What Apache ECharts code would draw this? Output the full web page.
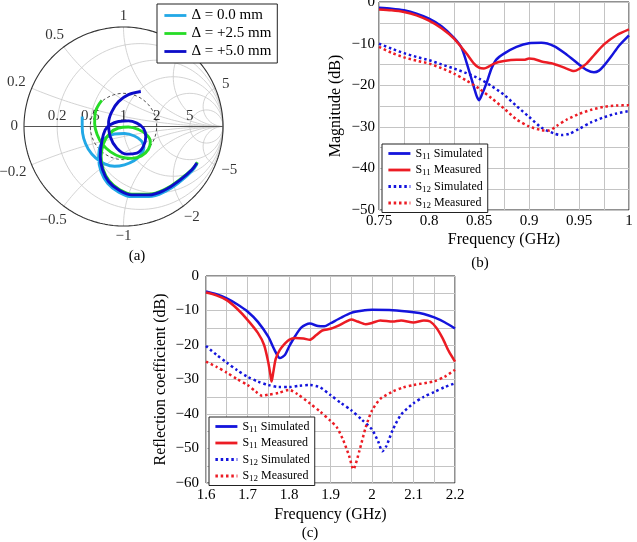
<!DOCTYPE html>
<html>
<head>
<meta charset="utf-8">
<script src="https://cdn.jsdelivr.net/npm/echarts@6/dist/echarts.min.js"></script>
<style>html,body{margin:0;padding:0;background:#fff}#main{width:637px;height:542px}</style>
</head>
<body>
<div id="main"></div>
<script>
// (a) Smith chart traces, reflection coefficient [Re, Im]
const gammaD00 = [[0.74,-0.375],[0.69,-0.445],[0.575,-0.55],[0.425,-0.65],[0.255,-0.705],[0.085,-0.705],[-0.055,-0.655],[-0.16,-0.57],[-0.225,-0.455],[-0.25,-0.32],[-0.235,-0.2],[-0.18,-0.115],[-0.09,-0.075],[0.01,-0.07],[0.11,-0.095],[0.18,-0.145],[0.205,-0.21],[0.175,-0.28],[0.105,-0.345],[0.01,-0.385],[-0.09,-0.4],[-0.19,-0.375],[-0.28,-0.315],[-0.355,-0.225],[-0.4,-0.12],[-0.415,-0.01],[-0.415,0.1]];
const gammaD25 = [[0.744,-0.36],[0.69,-0.43],[0.57,-0.53],[0.42,-0.63],[0.25,-0.68],[0.085,-0.68],[-0.045,-0.63],[-0.145,-0.545],[-0.205,-0.43],[-0.225,-0.3],[-0.2,-0.17],[-0.14,-0.07],[-0.05,-0.015],[0.05,-0.005],[0.15,-0.03],[0.23,-0.08],[0.27,-0.15],[0.25,-0.23],[0.18,-0.295],[0.08,-0.32],[-0.03,-0.305],[-0.13,-0.255],[-0.21,-0.18],[-0.265,-0.08],[-0.29,0.03],[-0.285,0.13],[-0.26,0.2],[-0.218,0.262]];
const gammaD50 = [[0.737,-0.368],[0.687,-0.435],[0.57,-0.536],[0.42,-0.636],[0.25,-0.687],[0.084,-0.687],[-0.05,-0.636],[-0.15,-0.553],[-0.21,-0.435],[-0.234,-0.3],[-0.218,-0.15],[-0.184,-0.034],[-0.134,0.017],[-0.05,0.05],[0.05,0.057],[0.134,0.034],[0.2,-0.017],[0.224,-0.1],[0.2,-0.2],[0.134,-0.268],[0.034,-0.278],[-0.067,-0.218],[-0.134,-0.1],[-0.15,0.034],[-0.117,0.15],[-0.05,0.25],[0.05,0.32],[0.174,0.352]];
const smithR = [0.2, 0.5, 1, 2, 5];
const smithX = [0.2, 0.5, 1, 2, 5];

// (b) magnitude vs frequency (GHz, dB)
const bS11SimF = [0.75,0.7625,0.775,0.7875,0.8,0.8125,0.825,0.8325,0.8375,0.8425,0.8475,0.85,0.8525,0.8575,0.8625,0.8675,0.875,0.8875,0.9,0.9125,0.925,0.9375,0.95,0.9575,0.965,0.97,0.975,0.9825,0.99,1.0];
const bS11SimDb = [-1.4,-1.6,-2.0,-2.8,-4.0,-5.8,-8.6,-11,-14.5,-18.5,-22.5,-23.6,-22.5,-19.5,-16,-13.8,-12.4,-10.8,-9.9,-9.8,-10.6,-12.6,-15.0,-16.3,-16.9,-16.5,-15.3,-13,-10.5,-8];
const bS11MeaF = [0.75,0.7625,0.775,0.7875,0.8,0.8125,0.825,0.8375,0.845,0.85,0.855,0.86,0.865,0.875,0.8875,0.895,0.9,0.905,0.9125,0.925,0.9375,0.945,0.95,0.9575,0.965,0.975,0.9875,1.0];
const bS11MeaDb = [-1.8,-2.0,-2.4,-3.2,-4.5,-6.3,-8.8,-12.4,-14.8,-15.8,-16.0,-15.5,-14.8,-14.2,-13.9,-13.9,-13.6,-13.7,-14.3,-14.9,-16.0,-16.6,-16.1,-14.8,-12.8,-10.2,-8.0,-6.6];
const bS12SimF = [0.75,0.7625,0.775,0.7875,0.8,0.8125,0.825,0.8375,0.85,0.8625,0.875,0.8875,0.9,0.9125,0.925,0.9325,0.94,0.95,0.9625,0.975,0.9875,1.0];
const bS12SimDb = [-10,-11.2,-12.3,-13.2,-14,-15,-16,-17.1,-18.4,-20.2,-22.3,-25,-27.6,-30.2,-31.6,-32,-31.7,-30.5,-28.9,-27.7,-26.8,-26.2];
const bS12MeaF = [0.75,0.7625,0.775,0.7875,0.8,0.8125,0.825,0.8375,0.85,0.8625,0.875,0.8875,0.9,0.9125,0.92,0.9275,0.9375,0.95,0.9625,0.975,0.9875,1.0];
const bS12MeaDb = [-10.8,-12.2,-13.3,-14.1,-14.8,-15.9,-17.2,-18.9,-20.8,-23.1,-25.6,-28.2,-29.9,-30.8,-30.9,-29.8,-28.3,-26.9,-25.9,-25.2,-24.9,-24.8];

// (c) reflection coefficient vs frequency (GHz, dB)
const cS11SimF = [1.6,1.625,1.65,1.675,1.7,1.725,1.75,1.765,1.778,1.79,1.8,1.815,1.83,1.85,1.87,1.885,1.9,1.925,1.95,1.975,2.0,2.05,2.1,2.125,2.15,2.175,2.2];
const cS11SimDb = [-4.5,-5.3,-6.5,-8.2,-10.3,-13.3,-17.6,-21.4,-23.8,-22.9,-20.5,-17.4,-14.9,-13.8,-14.5,-14.6,-13.7,-12.1,-10.7,-10.1,-9.8,-9.9,-10.5,-11,-12,-13.4,-15.2];
const cS11MeaF = [1.6,1.625,1.65,1.675,1.7,1.725,1.74,1.75,1.755,1.758,1.762,1.768,1.778,1.79,1.8,1.815,1.835,1.85,1.865,1.88,1.9,1.915,1.935,1.95,1.965,1.985,2.0,2.02,2.05,2.07,2.1,2.125,2.14,2.155,2.17,2.185,2.2];
const cS11MeaDb = [-4.8,-5.6,-7.0,-9.5,-12.7,-16.5,-20,-25,-28.5,-30.6,-28,-24,-21.4,-19.6,-18.5,-18.0,-18.1,-18.5,-17.2,-15.8,-15.3,-14.6,-13.4,-12.6,-13.2,-14.0,-13.6,-12.9,-13.2,-12.9,-13.5,-12.9,-13.2,-15.0,-18,-21.8,-24.8];
const cS12SimF = [1.6,1.625,1.65,1.675,1.7,1.725,1.75,1.775,1.8,1.825,1.85,1.875,1.9,1.925,1.95,1.975,2.0,2.015,2.025,2.035,2.05,2.07,2.1,2.125,2.15,2.175,2.2];
const cS12SimDb = [-20.3,-22.8,-25.1,-27.3,-29.2,-30.6,-31.6,-32.2,-32.2,-31.8,-31.6,-32.3,-34.5,-36.8,-38.9,-41.6,-44.5,-48,-50.8,-49.2,-44.6,-40.2,-36.9,-35,-33.6,-32.2,-31.1];
const cS12MeaF = [1.6,1.625,1.65,1.675,1.7,1.72,1.735,1.75,1.775,1.8,1.82,1.85,1.875,1.9,1.915,1.93,1.945,1.955,1.97,1.985,2.0,2.02,2.05,2.075,2.1,2.15,2.175,2.2];
const cS12MeaDb = [-24.8,-26.3,-28,-29.9,-31.6,-33.5,-34.7,-34.4,-33.9,-33.0,-34.2,-36.9,-39.3,-42,-43.8,-47.4,-52.2,-56,-50.5,-43.8,-39,-35.6,-33.5,-32.3,-31.6,-30.5,-29.2,-27.2];

const smithNames = ['Δ = 0.0 mm', 'Δ = +2.5 mm', 'Δ = +5.0 mm'];
const sNames = ['S11 Simulated', 'S11 Measured', 'S12 Simulated', 'S12 Measured'];

const FONT = '"Liberation Serif", "DejaVu Serif", serif';
const BLUE = '#1414dc', RED = '#ec1c24';
const zip = (xs, ys) => xs.map((x, i) => [x, ys[i]]);
const num = v => (v < 0 ? '\u2212' : '') + String(+Math.abs(v).toFixed(3));

// smith chart grid geometry
function arcPts(cx, cy, r, a0, a1, n) {
  const pts = [];
  for (let i = 0; i <= n; i++) {
    const a = a0 + (a1 - a0) * i / n;
    pts.push([cx + r * Math.cos(a), cy + r * Math.sin(a)]);
  }
  return pts;
}
const smithSeries = [];
function geoLine(data, style) {
  smithSeries.push({ type: 'line', xAxisIndex: 0, yAxisIndex: 0, data, symbol: 'none', silent: true, z: 1, lineStyle: style, clip: false });
}
const gridStyle = { color: '#c8c8c8', width: 0.8 };
smithR.forEach(r => geoLine(arcPts(r / (1 + r), 0, 1 / (1 + r), 0, 2 * Math.PI, 120), gridStyle));
smithX.forEach(x => {
  const px = (x * x - 1) / (x * x + 1), py = 2 * x / (x * x + 1);
  let aEnd = Math.atan2(py - 1 / x, px - 1);
  if (aEnd > -Math.PI / 2) aEnd -= 2 * Math.PI;
  const up = arcPts(1, 1 / x, 1 / x, -Math.PI / 2, aEnd, 120);
  geoLine(up, gridStyle);
  geoLine(up.map(p => [p[0], -p[1]]), gridStyle);
});
geoLine(arcPts(0, 0, 1, 0, 2 * Math.PI, 240), { color: '#333', width: 1.1 });
geoLine([[-1, 0], [1, 0]], { color: '#555', width: 1.2 });
geoLine(arcPts(0, 0, 1 / 3, 0, 2 * Math.PI, 120), { color: '#222', width: 0.8, type: [3, 2.5] });

// smith chart labels
const meas = document.createElement('canvas').getContext('2d');
meas.font = '15px ' + FONT;
const reactLabels = [0, ...smithX, ...smithX.map(v => -v)].map(x => {
  const px = (x * x - 1) / (x * x + 1), py = 2 * x / (x * x + 1);
  const text = num(x);
  const a = Math.atan2(py, px);
  const w = meas.measureText(text).width;
  const d = 6 + w / 2 * Math.abs(Math.cos(a)) + 4.5 * Math.abs(Math.sin(a));
  return { value: [px, py], label: { formatter: text, position: [d * Math.cos(a), -d * Math.sin(a)] } };
});
const resLabels = smithR.map(r => ({ value: [(r - 1) / (r + 1), 0], label: { formatter: num(r) } }));
smithSeries.push(
  { type: 'scatter', xAxisIndex: 0, yAxisIndex: 0, data: reactLabels, symbolSize: 0.1, silent: true, itemStyle: { color: 'transparent' },
    label: { show: true, align: 'center', verticalAlign: 'middle', fontSize: 15, fontFamily: FONT, color: '#000' } },
  { type: 'scatter', xAxisIndex: 0, yAxisIndex: 0, data: resLabels, symbolSize: 0.1, silent: true, itemStyle: { color: 'transparent' },
    label: { show: true, position: 'top', distance: 3, fontSize: 15, fontFamily: FONT, color: '#000' } }
);

const smithTrace = (name, data, color) => ({
  name, type: 'line', xAxisIndex: 0, yAxisIndex: 0, data, smooth: 0.4, symbol: 'none', z: 3,
  lineStyle: { color, width: 2.9 }, itemStyle: { color }
});
const trace = (name, idx, xs, ys, color, dotted) => ({
  name, type: 'line', xAxisIndex: idx, yAxisIndex: idx, data: zip(xs, ys), smooth: 0.25, symbol: 'none', z: 3,
  lineStyle: { color, width: 2.5, type: dotted ? [2.5, 2.8] : 'solid' }, itemStyle: { color }
});

const labelBase = { fontSize: 15, fontFamily: FONT, color: '#000', formatter: num, showMinLabel: true, showMaxLabel: true, hideOverlap: false };
const valAxis = (o, margin) => Object.assign({
  type: 'value', axisLine: { show: false }, axisTick: { show: false },
  splitLine: { show: true, lineStyle: { color: '#c4c4c4', width: 1 } },
  minorTick: { show: false, splitNumber: 2 },
  minorSplitLine: { show: true, lineStyle: { color: '#c4c4c4', width: 1 } },
  axisLabel: Object.assign({}, labelBase, { margin }),
  nameLocation: 'middle', nameTextStyle: { fontSize: 16, fontFamily: FONT, color: '#000' }
}, o);

const legendCommon = {
  orient: 'vertical', backgroundColor: '#fff', borderColor: '#222', borderWidth: 1, borderRadius: 0,
  itemWidth: 22, itemStyle: { opacity: 0 }, lineStyle: { width: 2.8 }
};
const sLegend = (left, top) => Object.assign({}, legendCommon, {
  left, top, padding: [2, 5, 2, 5], itemGap: 1.5, itemHeight: 12,
  formatter: n => '{m|S}{sub|' + n.slice(1, 3) + '}{m| ' + n.slice(4) + '}',
  textStyle: { fontFamily: FONT, color: '#000', fontSize: 12,
    rich: { m: { fontSize: 12, lineHeight: 12, fontFamily: FONT, color: '#000' },
            sub: { fontSize: 9, lineHeight: 8, padding: [6, 0, 0, 0], fontFamily: FONT, color: '#000' } } },
  data: sNames
});

const chart = echarts.init(document.getElementById('main'));
chart.setOption({
  animation: false,
  backgroundColor: '#fff',
  textStyle: { fontFamily: FONT },
  grid: [
    { left: 24, top: 27, width: 199, height: 199, outerBoundsMode: 'none' },
    { left: 379, top: 2, width: 250, height: 208, show: true, borderColor: '#222', borderWidth: 1, outerBoundsMode: 'none' },
    { left: 206, top: 276, width: 249, height: 207, show: true, borderColor: '#222', borderWidth: 1, outerBoundsMode: 'none' }
  ],
  xAxis: [
    { type: 'value', gridIndex: 0, min: -1, max: 1, show: false },
    valAxis({ gridIndex: 1, min: 0.75, max: 1, interval: 0.05, name: 'Frequency (GHz)', nameGap: 22 }, 4),
    valAxis({ gridIndex: 2, min: 1.6, max: 2.2, interval: 0.1, name: 'Frequency (GHz)', nameGap: 24 }, 5)
  ],
  yAxis: [
    { type: 'value', gridIndex: 0, min: -1, max: 1, show: false },
    valAxis({ gridIndex: 1, min: -50, max: 0, interval: 10, name: 'Magnitude (dB)', nameGap: 35 }, 4),
    valAxis({ gridIndex: 2, min: -60, max: 0, interval: 10, name: 'Reflection coefficient (dB)', nameGap: 37 }, 7)
  ],
  legend: [
    Object.assign({}, legendCommon, { left: 157, top: 4, padding: [4, 6, 4, 6], itemGap: 3, itemHeight: 14,
      textStyle: { fontFamily: FONT, color: '#000', fontSize: 15, lineHeight: 14 },
      data: smithNames }),
    sLegend(382, 144),
    sLegend(209, 417)
  ],
  graphic: [
    { type: 'text', x: 137, y: 256, style: { text: '(a)', font: '15px ' + FONT, fill: '#000', align: 'center', verticalAlign: 'middle' } },
    { type: 'text', x: 480, y: 263, style: { text: '(b)', font: '15px ' + FONT, fill: '#000', align: 'center', verticalAlign: 'middle' } },
    { type: 'text', x: 310, y: 533, style: { text: '(c)', font: '15px ' + FONT, fill: '#000', align: 'center', verticalAlign: 'middle' } }
  ],
  series: [
    ...smithSeries,
    smithTrace(smithNames[0], gammaD00, '#22a8e6'),
    smithTrace(smithNames[1], gammaD25, '#26dc26'),
    smithTrace(smithNames[2], gammaD50, '#0c0cc8'),
    trace(sNames[0], 1, bS11SimF, bS11SimDb, BLUE, false),
    trace(sNames[1], 1, bS11MeaF, bS11MeaDb, RED, false),
    trace(sNames[2], 1, bS12SimF, bS12SimDb, BLUE, true),
    trace(sNames[3], 1, bS12MeaF, bS12MeaDb, RED, true),
    trace(sNames[0], 2, cS11SimF, cS11SimDb, BLUE, false),
    trace(sNames[1], 2, cS11MeaF, cS11MeaDb, RED, false),
    trace(sNames[2], 2, cS12SimF, cS12SimDb, BLUE, true),
    trace(sNames[3], 2, cS12MeaF, cS12MeaDb, RED, true)
  ]
});
</script>
</body>
</html>
